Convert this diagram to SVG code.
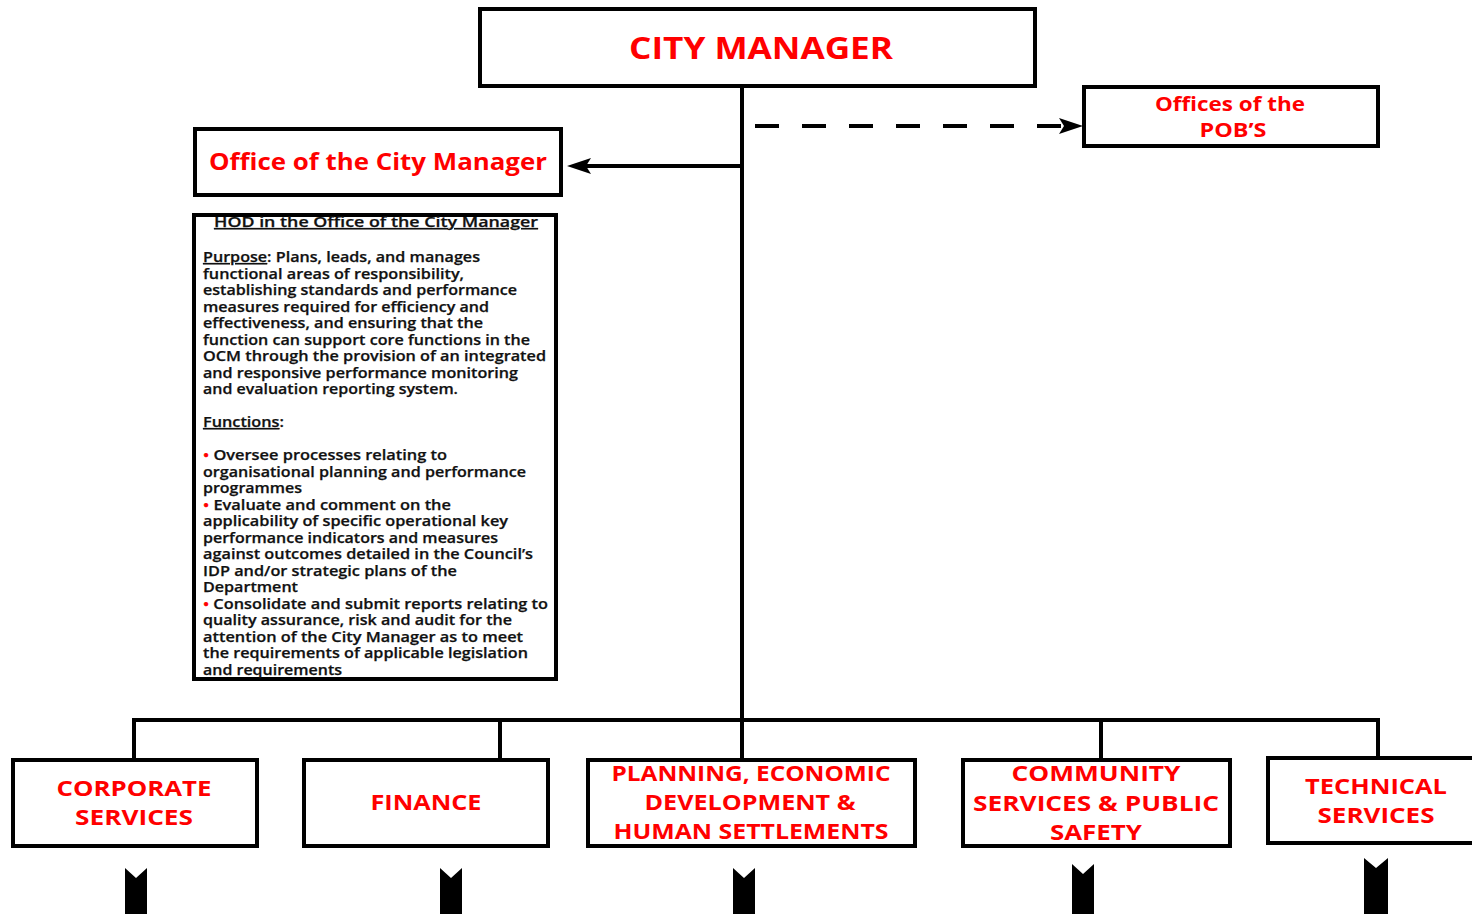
<svg xmlns="http://www.w3.org/2000/svg" width="1472" height="914" viewBox="0 0 1472 914">
<defs>
<style>
.box{fill:#fff;stroke:#000;stroke-width:4}
.ln{fill:none;stroke:#000;stroke-width:4}
.hd{font-family:"Open Sans","Liberation Sans",sans-serif;font-weight:700;fill:#ff0000;text-anchor:middle}
.bt{font-family:"Open Sans","Liberation Sans",sans-serif;font-weight:600;font-size:14px;fill:#111;stroke:#111;stroke-width:0.25}
.u{text-decoration:underline}
.r{fill:#ff0000;stroke:#ff0000}
.ah{fill:#000}
</style>
</defs>

<g id="connectors">
<line class="ln" x1="742" y1="86" x2="742" y2="760"/>
<line class="ln" x1="742" y1="166" x2="586" y2="166"/>
<polygon class="ah" points="567,166 591,158 586,166 591,174"/>
<line class="ln" x1="755" y1="126" x2="1064" y2="126" stroke-dasharray="24 23"/>
<polygon class="ah" points="1083,126 1059,118 1064,126 1059,134"/>
<polyline class="ln" points="134,760 134,720 1378,720 1378,758"/>
<line class="ln" x1="500" y1="720" x2="500" y2="760"/>
<line class="ln" x1="1101" y1="720" x2="1101" y2="760"/>
<polygon points="125,868 136,878 147,868 147,914 125,914" fill="#000"/>
<polygon points="440,868 451,878 462,868 462,914 440,914" fill="#000"/>
<polygon points="733,868 744,878 755,868 755,914 733,914" fill="#000"/>
<polygon points="1072,864 1083,874 1094,864 1094,914 1072,914" fill="#000"/>
<polygon points="1364,858 1376,868 1388,858 1388,914 1364,914" fill="#000"/>
</g>

<g id="city-manager">
<rect class="box" x="480" y="9" width="555" height="77"/>
<text class="hd" x="761" y="59" font-size="30" textLength="264" lengthAdjust="spacingAndGlyphs">CITY MANAGER</text>
</g>

<g id="pobs">
<rect class="box" x="1084" y="87" width="294" height="59"/>
<text class="hd" x="1230" y="111" font-size="20" textLength="150" lengthAdjust="spacingAndGlyphs">Offices of the</text>
<text class="hd" x="1233" y="137" font-size="20" textLength="67" lengthAdjust="spacingAndGlyphs">POB’S</text>
</g>

<g id="office-city-manager">
<rect class="box" x="195" y="129" width="366" height="66"/>
<text class="hd" x="378" y="170" font-size="24" textLength="338" lengthAdjust="spacingAndGlyphs">Office of the City Manager</text>
</g>

<g id="hod">
<rect class="box" x="194" y="215" width="362" height="464"/>
<text class="bt u" x="214" y="227" textLength="324" lengthAdjust="spacingAndGlyphs">HOD in the Office of the City Manager</text>
<text class="bt" x="203" y="262" textLength="277" lengthAdjust="spacingAndGlyphs"><tspan class="u">Purpose</tspan>: Plans, leads, and manages</text>
<text class="bt" x="203" y="278.5" textLength="261" lengthAdjust="spacingAndGlyphs">functional areas of responsibility,</text>
<text class="bt" x="203" y="295" textLength="314" lengthAdjust="spacingAndGlyphs">establishing standards and performance</text>
<text class="bt" x="203" y="311.5" textLength="286" lengthAdjust="spacingAndGlyphs">measures required for efficiency and</text>
<text class="bt" x="203" y="328" textLength="280" lengthAdjust="spacingAndGlyphs">effectiveness, and ensuring that the</text>
<text class="bt" x="203" y="344.5" textLength="327" lengthAdjust="spacingAndGlyphs">function can support core functions in the</text>
<text class="bt" x="203" y="361" textLength="343" lengthAdjust="spacingAndGlyphs">OCM through the provision of an integrated</text>
<text class="bt" x="203" y="377.5" textLength="315" lengthAdjust="spacingAndGlyphs">and responsive performance monitoring</text>
<text class="bt" x="203" y="394" textLength="255" lengthAdjust="spacingAndGlyphs">and evaluation reporting system.</text>
<text class="bt" x="203" y="427" textLength="81" lengthAdjust="spacingAndGlyphs"><tspan class="u">Functions</tspan>:</text>
<text class="bt" x="203" y="460" textLength="244" lengthAdjust="spacingAndGlyphs"><tspan class="r">•</tspan> Oversee processes relating to</text>
<text class="bt" x="203" y="476.5" textLength="323" lengthAdjust="spacingAndGlyphs">organisational planning and performance</text>
<text class="bt" x="203" y="493" textLength="99" lengthAdjust="spacingAndGlyphs">programmes</text>
<text class="bt" x="203" y="509.5" textLength="248" lengthAdjust="spacingAndGlyphs"><tspan class="r">•</tspan> Evaluate and comment on the</text>
<text class="bt" x="203" y="526" textLength="305" lengthAdjust="spacingAndGlyphs">applicability of specific operational key</text>
<text class="bt" x="203" y="542.5" textLength="295" lengthAdjust="spacingAndGlyphs">performance indicators and measures</text>
<text class="bt" x="203" y="559" textLength="330" lengthAdjust="spacingAndGlyphs">against outcomes detailed in the Council’s</text>
<text class="bt" x="203" y="575.5" textLength="254" lengthAdjust="spacingAndGlyphs">IDP and/or strategic plans of the</text>
<text class="bt" x="203" y="592" textLength="95" lengthAdjust="spacingAndGlyphs">Department</text>
<text class="bt" x="203" y="608.5" textLength="345" lengthAdjust="spacingAndGlyphs"><tspan class="r">•</tspan> Consolidate and submit reports relating to</text>
<text class="bt" x="203" y="625" textLength="309" lengthAdjust="spacingAndGlyphs">quality assurance, risk and audit for the</text>
<text class="bt" x="203" y="641.5" textLength="320" lengthAdjust="spacingAndGlyphs">attention of the City Manager as to meet</text>
<text class="bt" x="203" y="658" textLength="325" lengthAdjust="spacingAndGlyphs">the requirements of applicable legislation</text>
<text class="bt" x="203" y="674.5" textLength="139" lengthAdjust="spacingAndGlyphs">and requirements</text>
</g>

<g id="corporate-services">
<rect class="box" x="13" y="760" width="244" height="86"/>
<text class="hd" x="134" y="796" font-size="22" textLength="155" lengthAdjust="spacingAndGlyphs">CORPORATE</text>
<text class="hd" x="134" y="825" font-size="22" textLength="118" lengthAdjust="spacingAndGlyphs">SERVICES</text>
</g>

<g id="finance">
<rect class="box" x="304" y="760" width="244" height="86"/>
<text class="hd" x="426" y="810" font-size="22" textLength="111" lengthAdjust="spacingAndGlyphs">FINANCE</text>
</g>

<g id="planning">
<rect class="box" x="588" y="760" width="327" height="86"/>
<text class="hd" x="751" y="781" font-size="22" textLength="279" lengthAdjust="spacingAndGlyphs">PLANNING, ECONOMIC</text>
<text class="hd" x="750" y="810" font-size="22" textLength="211" lengthAdjust="spacingAndGlyphs">DEVELOPMENT &amp;</text>
<text class="hd" x="751" y="839" font-size="22" textLength="275" lengthAdjust="spacingAndGlyphs">HUMAN SETTLEMENTS</text>
</g>

<g id="community">
<rect class="box" x="963" y="760" width="267" height="86"/>
<text class="hd" x="1096" y="781" font-size="22" textLength="169" lengthAdjust="spacingAndGlyphs">COMMUNITY</text>
<text class="hd" x="1096" y="811" font-size="22" textLength="246" lengthAdjust="spacingAndGlyphs">SERVICES &amp; PUBLIC</text>
<text class="hd" x="1096" y="840" font-size="22" textLength="92" lengthAdjust="spacingAndGlyphs">SAFETY</text>
</g>

<g id="technical">
<rect class="box" x="1268" y="758" width="214" height="85"/>
<text class="hd" x="1376" y="794" font-size="22" textLength="142" lengthAdjust="spacingAndGlyphs">TECHNICAL</text>
<text class="hd" x="1376" y="823" font-size="22" textLength="117" lengthAdjust="spacingAndGlyphs">SERVICES</text>
</g>
</svg>
